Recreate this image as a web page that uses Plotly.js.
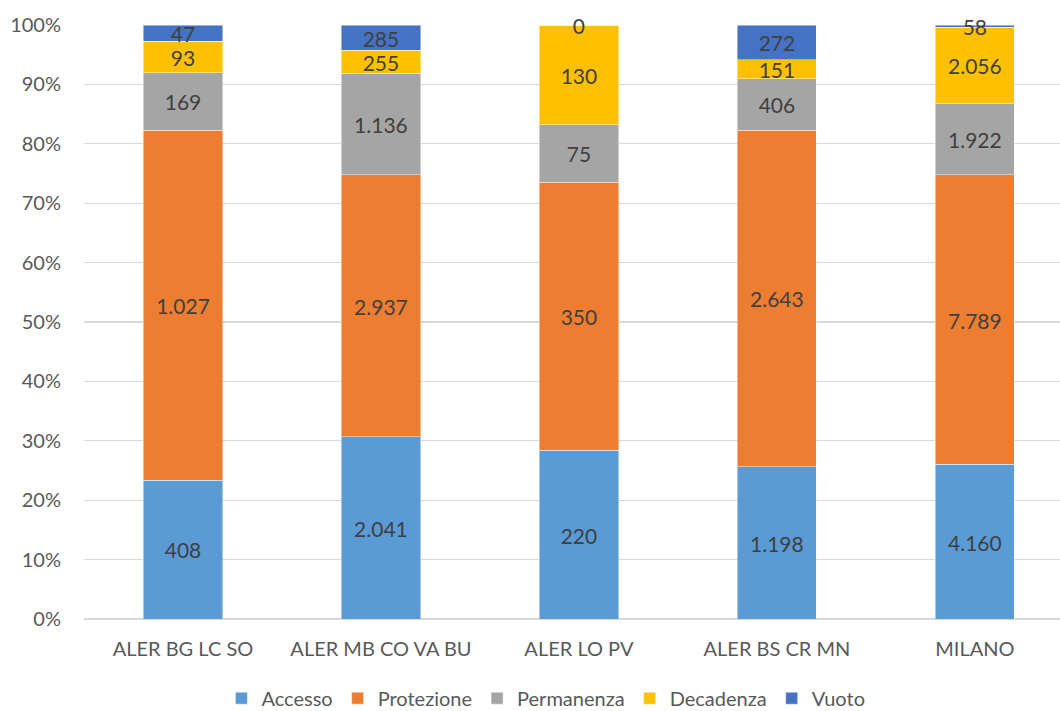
<!DOCTYPE html>
<html>
<head>
<meta charset="utf-8">
<script src="https://cdn.plot.ly/plotly-3.0.1.min.js"></script>
<style>
  html, body { margin: 0; padding: 0; background: #fff; }
  #chart { width: 1060px; height: 711px; }
</style>
</head>
<body>
<div id="chart"></div>
<script>
// Categories (ALER districts)
const categories = ['ALER BG LC SO', 'ALER MB CO VA BU', 'ALER LO PV', 'ALER BS CR MN', 'MILANO'];

// Counts per area
const accesso    = [408, 2041, 220, 1198, 4160];
const protezione = [1027, 2937, 350, 2643, 7789];
const permanenza = [169, 1136, 75, 406, 1922];
const decadenza  = [93, 255, 130, 151, 2056];
const vuoto      = [47, 285, 0, 272, 58];

const seriesNames = ['Accesso', 'Protezione', 'Permanenza', 'Decadenza', 'Vuoto'];
const seriesData  = [accesso, protezione, permanenza, decadenza, vuoto];
const seriesColors = ['#5B9BD5', '#ED7D31', '#A5A5A5', '#FFC000', '#4472C4'];

// Italian thousands separator (1.027)
function fmt(n) {
  return String(n).replace(/\B(?=(\d{3})+(?!\d))/g, '.');
}

const FONT = 'Lato, "Open Sans", sans-serif';

// 100% stacked bars
const traces = seriesData.map((vals, i) => ({
  type: 'bar',
  name: seriesNames[i],
  x: categories,
  y: vals,
  marker: { color: seriesColors[i], line: { color: 'rgba(255,255,255,0.6)', width: 0.75 } },
  hoverinfo: 'name+y'
}));

// Value labels centred on each segment (also for segments too thin to hold text)
const totals = categories.map((_, c) => seriesData.reduce((s, vals) => s + vals[c], 0));
const lblX = [], lblY = [], lblText = [];
categories.forEach((cat, c) => {
  let base = 0;
  seriesData.forEach(vals => {
    const share = vals[c] / totals[c] * 100;
    lblX.push(cat);
    lblY.push(base + share / 2);
    lblText.push(fmt(vals[c]));
    base += share;
  });
});
traces.push({
  type: 'scatter',
  mode: 'text',
  x: lblX,
  y: lblY,
  yaxis: 'y2',
  text: lblText,
  textposition: 'middle center',
  textfont: { family: FONT, size: 21, color: '#404040' },
  cliponaxis: false,
  showlegend: false,
  hoverinfo: 'skip'
});

const layout = {
  width: 1060,
  height: 711,
  barmode: 'stack',
  barnorm: 'percent',
  bargap: 0.6,
  paper_bgcolor: '#ffffff',
  plot_bgcolor: '#ffffff',
  margin: { l: 84, r: 0, t: 25, b: 92 },
  font: { family: FONT, color: '#595959' },
  xaxis: {
    type: 'category',
    range: [-0.5, 4.43],
    showgrid: false,
    zeroline: false,
    showline: false,
    ticks: '',
    ticklabelstandoff: 16,
    tickfont: { family: FONT, size: 20, color: '#595959' }
  },
  yaxis: {
    range: [0, 100],
    dtick: 10,
    ticksuffix: '%',
    showgrid: true,
    gridcolor: '#D9D9D9',
    gridwidth: 1.3,
    zeroline: true,
    zerolinecolor: '#D9D9D9',
    zerolinewidth: 1.3,
    showline: false,
    ticks: '',
    ticklabelstandoff: 22,
    tickfont: { family: FONT, size: 20, color: '#595959' }
  },
  // hidden companion axis for the value labels, nudged so text sits on the segment centre
  yaxis2: {
    overlaying: 'y',
    range: [0.6, 100.6],
    visible: false,
    showgrid: false,
    zeroline: false
  },
  legend: {
    orientation: 'h',
    xref: 'container',
    x: 0.515,
    xanchor: 'center',
    yref: 'container',
    y: 0.018,
    yanchor: 'middle',
    font: { family: FONT, size: 20, color: '#595959' },
    itemwidth: 30,
    traceorder: 'normal'
  },
  showlegend: true
};

Plotly.newPlot('chart', traces, layout, { displayModeBar: false, staticPlot: true });
</script>
</body>
</html>
